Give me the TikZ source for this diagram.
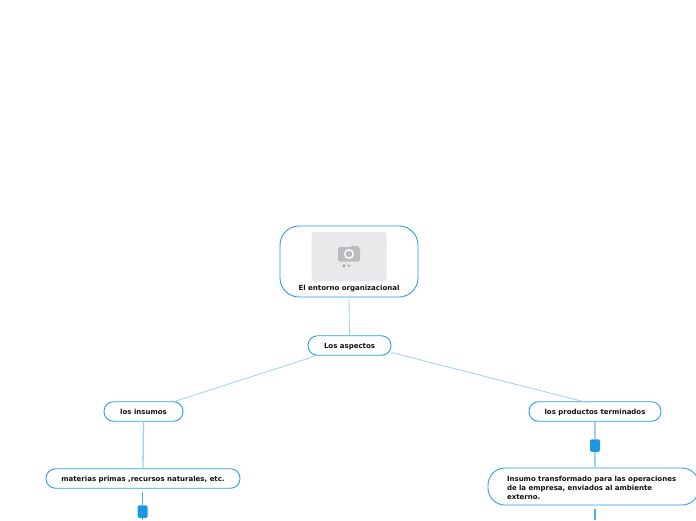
\documentclass[tikz,border=0pt]{standalone}
\usepackage{fontspec}
\setmainfont{DejaVu Sans}
\usepackage{tikz}
\usetikzlibrary{arrows.meta,positioning,calc}
\definecolor{mapEdge}{HTML}{2A9FE2}
\definecolor{mapLink}{HTML}{9AD3F4}
\definecolor{mapHandle}{HTML}{1B98E0}
\definecolor{mapText}{HTML}{111111}
\definecolor{mapPhoto}{HTML}{E8E9EB}
\definecolor{mapIcon}{HTML}{BABCBF}
\tikzset{
  topic/.style={draw=mapEdge,line width=0.9pt,fill=white,text=mapText,rounded corners=9.5pt,
                align=center,inner sep=0pt,minimum height=19.5pt,text height=6.5pt,text depth=1pt,
                font=\fontsize{7}{9}\selectfont\bfseries},
  topicbig/.style={topic,rounded corners=19pt,minimum width=138pt,minimum height=71pt},
  topicwide/.style={topic,rounded corners=17pt,minimum width=211pt,minimum height=37pt},
  caption/.style={inner sep=0pt,text=mapText,font=\fontsize{7}{9}\selectfont\bfseries},
  maplink/.style={draw=mapLink,line width=0.8pt},
  mapdrop/.style={draw=mapLink,line width=1.3pt},
  mapstem/.style={draw=mapHandle!80!white,line width=1.6pt},
  handle/.style={draw=none,fill=mapHandle,rounded corners=1.5pt,minimum width=10pt,minimum height=12.5pt,inner sep=0pt},
}
\begin{document}
\begin{tikzpicture}[x=1pt,y=1pt]
  \useasboundingbox (0,0) rectangle (696,-520);

  \node[topicbig] (R) at (349,-261.5) {};
  \node[draw=none,fill=mapPhoto,rounded corners=3pt,minimum width=75pt,minimum height=49.5pt,inner sep=0pt] (P) at (349,-256.5) {};
  \node[caption] (RT) at (349,-288.5) {El entorno organizacional};

  % camera glyph on the placeholder
  \fill[mapIcon,rounded corners=1.5pt] (338,-247) rectangle (360,-261.5);
  \fill[mapIcon] (351,-245.5) rectangle (358,-248);
  \fill[white] (349,-254) circle (5);
  \fill[mapIcon] (349,-254) circle (3.4);
  \fill[gray!75] (344,-265.7) circle (1.6);
  \fill[mapIcon] (349,-265.7) circle (1.6);

  \node[topic,minimum width=83pt] (A) at (349.5,-345.5) {Los aspectos};
  \node[topic,minimum width=79pt] (I) at (143.5,-411.5) {los insumos};
  \node[topic,minimum width=132pt] (T) at (595,-411.5) {los productos terminados};
  \node[topic,minimum width=194pt] (M) at (143,-478.5) {materias primas ,recursos naturales, etc.};
  \node[topicwide] (S) at (593.5,-486.5) {};
  \node[caption,align=left,text width=172pt] (ST) at (593,-487.5) {Insumo transformado para las operaciones\\de la empresa, enviados al ambiente\\externo.};

  \node[handle] (HM) at (142.5,-511.5) {};
  \node[handle] (HT) at (595,-445.5) {};
  \coordinate (ME) at (142.5,-520);
  \coordinate (SE) at (595,-520);

  \draw[maplink] (R.south)--(A.north);
  \draw[maplink] (A.south west)++(9,0) -- (I.north east -| 175,-402);
  \draw[maplink] (A.east)++(0,-7) -- (585,-402);
  \draw[mapdrop] (I.south)--(M.north);
  \draw[mapdrop] (T.south -| HT)--(HT.north);
  \draw[mapdrop] (HT.south)--(S.north -| HT);
  \draw[mapstem] (M.south -| HM) ++(0,-3)--(HM.north);
  \draw[mapstem] (HM.south)--(ME);
  \draw[mapstem] (S.south -| SE) ++(0,-4)--(SE);
\end{tikzpicture}
\end{document}
